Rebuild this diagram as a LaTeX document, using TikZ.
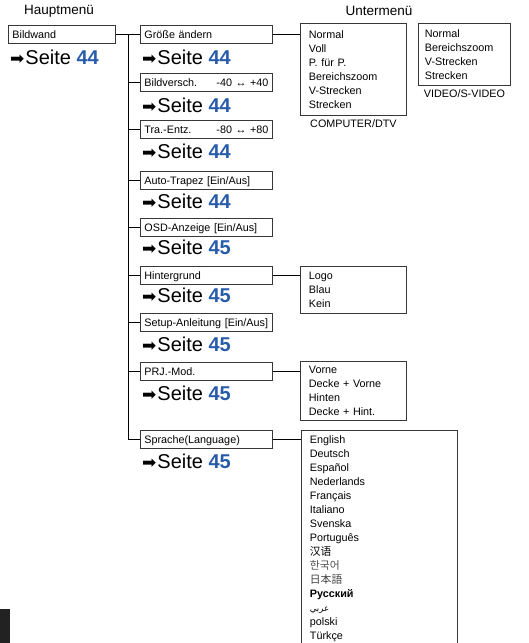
\documentclass[tikz,border=0pt]{standalone}
\usepackage{fontspec}
\setmainfont{Liberation Sans}
\newfontfamily\symfont{DejaVu Sans}
\newfontfamily\scfont{Noto Sans CJK SC}
\newfontfamily\krfont{Noto Sans CJK KR}
\newfontfamily\jpfont{Noto Sans CJK JP}
\newfontfamily\arabicfont[Script=Arabic]{DejaVu Sans}
\TeXXeTstate=1
\usetikzlibrary{positioning}
\definecolor{seiteblue}{RGB}{40,92,170}
\definecolor{boxgray}{RGB}{55,55,55}
\definecolor{tabdark}{RGB}{34,34,34}
\newcommand{\seite}[1]{{\symfont\fontsize{17}{20}\selectfont ➡}\kern1pt Seite \textcolor{seiteblue}{\textbf{#1}}}
\newcommand{\valtext}[2]{\makebox[\linewidth]{#1\hfill #2}}

\begin{document}
\begin{tikzpicture}[x=1pt,y=-1pt,
  menubox/.style={draw=boxgray, line width=0.8pt, anchor=north west, minimum height=18pt,
    text width=124pt, align=left, inner xsep=4pt, inner ysep=0pt, text height=9pt, text depth=1pt,
    font=\fontsize{10.8}{13}\selectfont},
  subbox/.style={draw=boxgray, line width=0.8pt, anchor=north west, align=left,
    inner xsep=8.5pt, font=\fontsize{10.8}{14}\selectfont},
  seite/.style={anchor=base west, inner sep=0pt, font=\fontsize{20}{24}\selectfont},
  heading/.style={inner sep=0pt, font=\fontsize{13.5}{16}\selectfont},
  caption/.style={inner sep=0pt, font=\fontsize{10.8}{13}\selectfont},
  conn/.style={line width=0.8pt}]
  \useasboundingbox (0,0) rectangle (528,643);
  \node[heading] (haupt) at (59,11) {Hauptmenü};
  \node[heading] (unter) at (379,11) {Untermenü};

  \node[menubox, text width=99pt] (bildwand) at (8,25) {Bildwand};
  \node[seite] (s0) at ([xshift=2pt,yshift=-21pt]bildwand.south west) {\seite{44}};

  \node[menubox] (groesse) at (140,25) {Größe ändern};
  \node[menubox] (bildv) at (140,73) {\valtext{Bildversch.}{-40 ↔ +40}};
  \node[menubox] (tra) at (140,120) {\valtext{Tra.-Entz.}{-80 ↔ +80}};
  \node[menubox] (trapez) at (140,171) {Auto-Trapez [Ein/Aus]};
  \node[menubox] (osd) at (140,218) {OSD-Anzeige [Ein/Aus]};
  \node[menubox] (hinter) at (140,266) {Hintergrund};
  \node[menubox] (setup) at (140,313) {Setup-Anleitung [Ein/Aus]};
  \node[menubox] (prj) at (140,362) {PRJ.-Mod.};
  \node[menubox] (sprache) at (140,430) {Sprache(Language)};

  \node[seite] (s1) at ([xshift=2pt,yshift=-21pt]groesse.south west) {\seite{44}};
  \node[seite] (s2) at ([xshift=2pt,yshift=-21pt]bildv.south west) {\seite{44}};
  \node[seite] (s3) at ([xshift=2pt,yshift=-20pt]tra.south west) {\seite{44}};
  \node[seite] (s4) at ([xshift=2pt,yshift=-19pt]trapez.south west) {\seite{44}};
  \node[seite] (s5) at ([xshift=2pt,yshift=-18pt]osd.south west) {\seite{45}};
  \node[seite] (s6) at ([xshift=2pt,yshift=-18pt]hinter.south west) {\seite{45}};
  \node[seite] (s7) at ([xshift=2pt,yshift=-20pt]setup.south west) {\seite{45}};
  \node[seite] (s8) at ([xshift=2pt,yshift=-20pt]prj.south west) {\seite{45}};
  \node[seite] (s9) at ([xshift=2pt,yshift=-20pt]sprache.south west) {\seite{45}};

  \node[subbox, text width=89pt, minimum height=92pt] (normal) at (300,23)
    {Normal\\Voll\\P. für P.\\Bereichszoom\\V-Strecken\\Strecken};
  \node[caption, below=4pt of normal] (computer) {COMPUTER/DTV};
  \node[subbox, text width=79pt, inner xsep=6.5pt, minimum height=62pt] (video) at (418,23)
    {Normal\\Bereichszoom\\V-Strecken\\Strecken};
  \node[caption, below=4pt of video] (videocap) {VIDEO/S-VIDEO};
  \node[subbox, text width=89pt, minimum height=47pt] (logo) at (300,266) {Logo\\Blau\\Kein};
  \node[subbox, text width=89pt, minimum height=59pt] (vorne) at (300,361)
    {Vorne\\Decke + Vorne\\Hinten\\Decke + Hint.};
  \node[subbox, text width=139pt, inner ysep=5pt] (lang) at (301,430)
    {English\\Deutsch\\Español\\Nederlands\\Français\\Italiano\\Svenska\\Português\\
     {\scfont 汉语}\\{\krfont\color{black!70}한국어}\\{\jpfont\color{black!75}日本語}\\
     \textbf{Русский}\\{\arabicfont\fontsize{8.5}{14}\selectfont\beginR عربي\endR}\\polski\\Türkçe};

  \coordinate (trunk) at (128,34);
  \draw[conn] (bildwand.east) -- (groesse.west);
  \draw[conn] (trunk) |- (sprache.west);
  \foreach \n in {bildv,tra,trapez,osd,hinter,setup,prj}
    \draw[conn] (trunk |- \n.west) -- (\n.west);
  \draw[conn] (groesse.east) -- (groesse.east -| normal.west);
  \draw[conn] (hinter.east) -- (hinter.east -| logo.west);
  \draw[conn] (prj.east) -- (prj.east -| vorne.west);
  \draw[conn] (sprache.east) -- (sprache.east -| lang.west);

  \fill[tabdark] (0,609) rectangle (10,643);
\end{tikzpicture}
\end{document}
